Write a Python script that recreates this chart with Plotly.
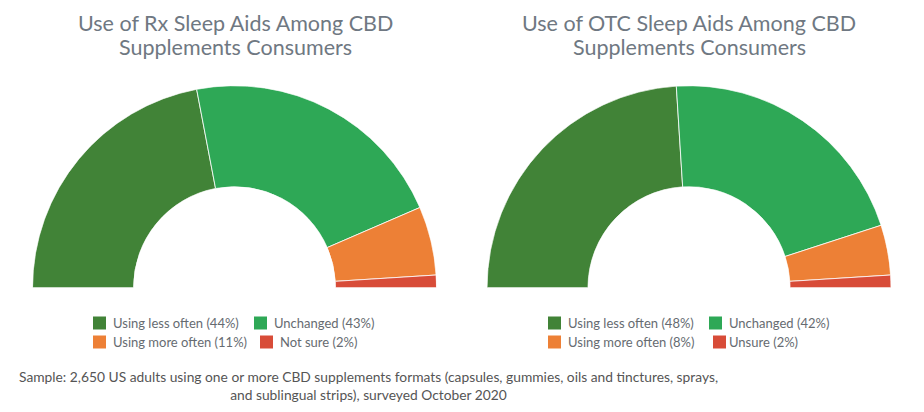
import plotly.graph_objects as go

# ---- data ----
rx_title = ["Use of Rx Sleep Aids Among CBD", "Supplements Consumers"]
otc_title = ["Use of OTC Sleep Aids Among CBD", "Supplements Consumers"]
rx_categories = ["Using less often", "Unchanged", "Using more often", "Not sure"]
rx_values = [44, 43, 11, 2]
otc_categories = ["Using less often", "Unchanged", "Using more often", "Unsure"]
otc_values = [48, 42, 8, 2]
colors = ["#418337", "#2ea856", "#ed8036", "#d84c38"]
footnote = ("Sample: 2,650 US adults using one or more CBD supplements formats (capsules, gummies, oils and tinctures, sprays,<br>"
            "and sublingual strips), surveyed October 2020")

# page has an 8px body margin; figure sized to fit inside the window
OFF = 8
W, H = 924 - 2 * OFF, 412 - 2 * OFF
FONT = "Lato, 'Open Sans', sans-serif"

fig = go.Figure()


def add_half_donut(values, polar_name):
    total = sum(values)
    widths = [v / total * 180 for v in values]
    thetas = []
    acc = 0
    for w in widths:
        thetas.append(acc + w / 2)
        acc += w
    fig.add_trace(go.Barpolar(
        r=[1] * len(values), theta=thetas, width=widths, base=0,
        marker=dict(color=colors, line=dict(color="white", width=0.8)),
        subplot=polar_name, hoverinfo="skip", showlegend=False,
    ))


add_half_donut(rx_values, "polar")
add_half_donut(otc_values, "polar2")


def px_x(x):
    return (x - OFF) / W


def px_y(y):
    return 1 - (y - OFF) / H


ydom = [px_y(287.7), px_y(287.7 - 202)]
polar_common = dict(
    sector=[0, 180], hole=0.5, bgcolor="rgba(0,0,0,0)",
    radialaxis=dict(visible=False, range=[0, 1]),
    angularaxis=dict(visible=False, rotation=180, direction="clockwise",
                     showgrid=False, showline=False, ticks=""),
)
fig.update_layout(
    width=W, height=H, margin=dict(l=0, r=0, t=0, b=0),
    paper_bgcolor="white", plot_bgcolor="white",
    polar=dict(domain=dict(x=[px_x(32.5), px_x(436.5)], y=ydom), **polar_common),
    polar2=dict(domain=dict(x=[px_x(487), px_x(891)], y=ydom), **polar_common),
    font=dict(family=FONT),
)

annotations = []
shapes = []

# titles (two lines, tighter line spacing than plotly default)
for title, cx in [(rx_title, 235), (otc_title, 689)]:
    for line, cy in zip(title, [23, 47]):
        annotations.append(dict(text=line, x=px_x(cx), y=px_y(cy), xref="paper", yref="paper",
                                xanchor="center", yanchor="middle", showarrow=False,
                                font=dict(size=21.5, color="#6f7882", family=FONT)))


# legends
def add_legend(categories, values, positions):
    for i, (cat, v) in enumerate(zip(categories, values)):
        sx, tx, cy = positions[i]
        shapes.append(dict(type="rect", xref="paper", yref="paper",
                           x0=px_x(sx), x1=px_x(sx + 13), y0=px_y(cy + 6.5), y1=px_y(cy - 6.5),
                           fillcolor=colors[i], line=dict(width=0)))
        annotations.append(dict(text=f"{cat} ({v}%)", x=px_x(tx), y=px_y(cy), xref="paper", yref="paper",
                                xanchor="left", yanchor="middle", showarrow=False,
                                font=dict(size=13, color="#666b71", family=FONT)))


add_legend(rx_categories, rx_values,
           [(93, 111, 323), (254, 272, 323), (93, 111, 342), (260, 278, 342)])
add_legend(otc_categories, otc_values,
           [(548, 566, 323), (709, 727, 323), (548, 566, 342), (713, 727, 342)])

annotations.append(dict(text=footnote, x=px_x(368), y=px_y(385), xref="paper", yref="paper",
                        xanchor="center", yanchor="middle", showarrow=False, align="center",
                        font=dict(size=13.8, color="#555555", family=FONT)))

fig.update_layout(annotations=annotations, shapes=shapes)
fig.write_html("out.html")
